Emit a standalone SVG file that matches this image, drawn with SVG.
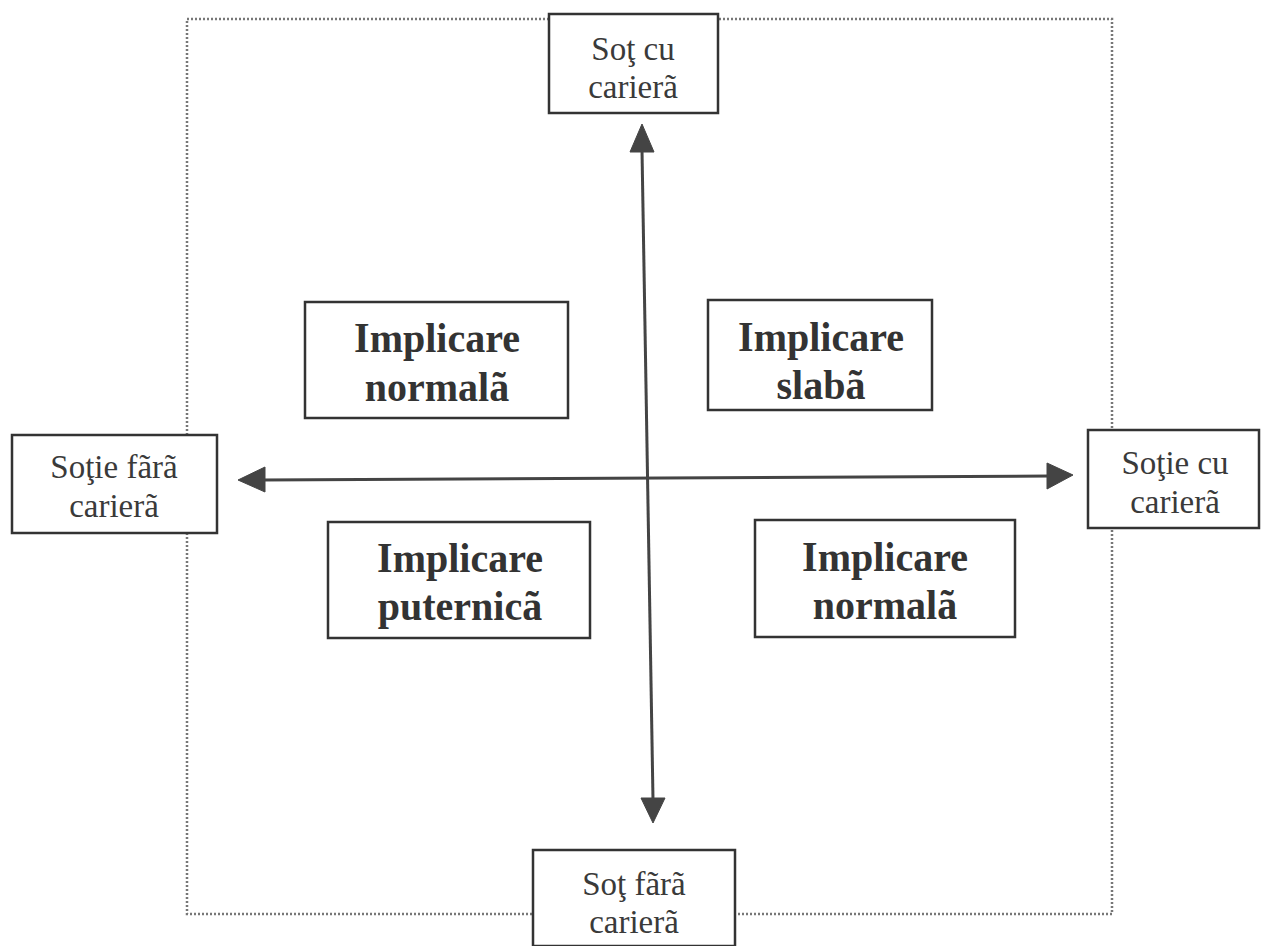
<svg xmlns="http://www.w3.org/2000/svg" width="1262" height="946" viewBox="0 0 1262 946">
<style>
.frame{fill:none;stroke:#777;stroke-width:2.5;stroke-dasharray:2 2}
.box{fill:#fff;stroke:#333;stroke-width:2.5}
.lbl{font-family:"Liberation Serif","Times New Roman",serif;font-size:33px;fill:#3a3a3a;text-anchor:middle}
.big{font-family:"Liberation Serif","Times New Roman",serif;font-size:40px;font-weight:bold;fill:#333;text-anchor:middle}
.axis{stroke:#444;stroke-width:3;fill:none}
.head{fill:#444;stroke:#444;stroke-width:1}
</style>
<rect class="frame" x="187" y="19" width="925" height="895"/>
<g id="connectors">
  <line class="axis" x1="642" y1="150" x2="653" y2="800"/>
  <polygon class="head" points="642,124 630,152 654,152"/>
  <polygon class="head" points="653,823 641,798 665,798"/>
  <line class="axis" x1="262" y1="480" x2="1050" y2="476"/>
  <polygon class="head" points="238,480 265,467 265,492"/>
  <polygon class="head" points="1073,475 1047,463 1047,489"/>
</g>
<g id="sot-cu-cariera">
  <rect class="box" x="549" y="14" width="169" height="99"/>
  <text class="lbl" transform="translate(633,60) scale(1,1.05)">Soţ cu</text>
  <text class="lbl" transform="translate(633,98) scale(1,1.05)">carierã</text>
</g>
<g id="sot-fara-cariera">
  <rect class="box" x="533" y="850" width="202" height="96"/>
  <text class="lbl" transform="translate(634,895) scale(1,1.05)">Soţ fãrã</text>
  <text class="lbl" transform="translate(634,933) scale(1,1.05)">carierã</text>
</g>
<g id="sotie-fara-cariera">
  <rect class="box" x="12" y="435" width="205" height="98"/>
  <text class="lbl" transform="translate(114,478) scale(1,1.05)">Soţie fãrã</text>
  <text class="lbl" transform="translate(114,517) scale(1,1.05)">carierã</text>
</g>
<g id="sotie-cu-cariera">
  <rect class="box" x="1088" y="430" width="171" height="98"/>
  <text class="lbl" transform="translate(1175,474) scale(1,1.05)">Soţie cu</text>
  <text class="lbl" transform="translate(1175,513) scale(1,1.05)">carierã</text>
</g>
<g id="implicare-normala-1">
  <rect class="box" x="305" y="302" width="263" height="116"/>
  <text class="big" transform="translate(437,352) scale(1,1.06)">Implicare</text>
  <text class="big" transform="translate(437,401) scale(1,1.06)">normalã</text>
</g>
<g id="implicare-slaba">
  <rect class="box" x="708" y="300" width="224" height="110"/>
  <text class="big" transform="translate(821,351) scale(1,1.06)">Implicare</text>
  <text class="big" transform="translate(821,399) scale(1,1.06)">slabã</text>
</g>
<g id="implicare-puternica">
  <rect class="box" x="328" y="522" width="262" height="116"/>
  <text class="big" transform="translate(460,572) scale(1,1.06)">Implicare</text>
  <text class="big" transform="translate(460,620) scale(1,1.06)">puternicã</text>
</g>
<g id="implicare-normala-2">
  <rect class="box" x="755" y="520" width="260" height="117"/>
  <text class="big" transform="translate(885,571) scale(1,1.06)">Implicare</text>
  <text class="big" transform="translate(885,619) scale(1,1.06)">normalã</text>
</g>
</svg>
